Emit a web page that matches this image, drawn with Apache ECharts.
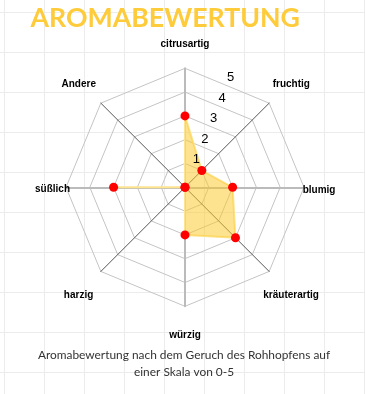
<!DOCTYPE html>
<html>
<head>
<meta charset="utf-8">
<script src="https://cdn.jsdelivr.net/npm/echarts@6/dist/echarts.min.js"></script>
<style>
  html, body { margin: 0; padding: 0; background: #fff; }
  #chart {
    width: 365px; height: 394px;
    background-color: #fff;
    background-image:
      linear-gradient(to bottom, #ececec 1px, transparent 1px),
      linear-gradient(to right, #ececec 1px, transparent 1px);
    background-size: 40px 40px;
    background-position: 4px 12px;
  }
</style>
</head>
<body>
<div id="chart"></div>
<script>
// ---- data ----
const titleText = 'AROMABEWERTUNG';
const captionText = 'Aromabewertung nach dem Geruch des Rohhopfens auf\neiner Skala von 0-5';
const categories = ['citrusartig', 'fruchtig', 'blumig', 'kräuterartig', 'würzig', 'harzig', 'süßlich', 'Andere'];
const values = [3, 1, 2, 3, 2, 0, 3, 0];
const scaleMax = 5;
const tickLabels = ['1', '2', '3', '4', '5'];

// ---- layout / style (not data) ----
const CX = 185, CY = 187.3, R = 119;
// per category (same order as categories), placement of the names
const nameLayout = [
  { gap: 24,   align: 'center', va: 'middle', lh: 12, diag: false },
  { gap: 5,    align: 'left',   va: 'bottom', lh: 31, diag: true },
  { gap: -1.3, align: 'left',   va: 'top',    lh: 5,  diag: false },
  { gap: -8.3, align: 'left',   va: 'top',    lh: 60, diag: true },
  { gap: 29,   align: 'center', va: 'middle', lh: 12, diag: false },
  { gap: 10.7, align: 'right',  va: 'top',    lh: 33, diag: true },
  { gap: -4,   align: 'right',  va: 'top',    lh: 4,  diag: false },
  { gap: 6.9,  align: 'right',  va: 'bottom', lh: 29, diag: true }
];

// ECharts places radar indicators counter-clockwise; the reference runs clockwise.
const order = categories.map((_, i) => (categories.length - i) % categories.length);

const indicators = order.map((k) => {
  const L = nameLayout[k];
  const ind = {
    name: categories[k],
    min: 0,
    max: scaleMax,
    nameGap: L.gap,
    nameTextStyle: { align: L.align, verticalAlign: L.va, lineHeight: L.lh }
  };
  if (L.diag) {
    ind.axisLine = { lineStyle: { color: '#555555', width: 1 } };
  }
  return ind;
});
const orderedValues = order.map((k) => values[k]);

const chart = echarts.init(document.getElementById('chart'), null, { renderer: 'canvas' });
chart.setOption({
  backgroundColor: 'transparent',
  animation: false,
  title: [
    {
      text: titleText,
      left: 30.5,
      top: 4.5,
      padding: 0,
      textStyle: { fontFamily: 'Lato', fontWeight: 'bold', fontSize: 26.7, color: '#fecb3a' }
    },
    {
      text: captionText,
      left: 184,
      top: 346.5,
      padding: 0,
      textAlign: 'center',
      textStyle: { fontFamily: 'Lato', fontWeight: 'normal', fontSize: 11.9, color: '#333333', lineHeight: 17 }
    }
  ],
  radar: {
    center: [CX, CY],
    radius: R,
    shape: 'polygon',
    splitNumber: scaleMax,
    startAngle: 90,
    indicator: indicators,
    axisName: {
      color: '#000000',
      fontFamily: 'Liberation Sans, Arial, sans-serif',
      fontWeight: 'bold',
      fontSize: 10
    },
    axisLine: { show: true, lineStyle: { color: '#bbbbbb', width: 2 } },
    splitLine: { show: true, lineStyle: { color: '#c4c4c4', width: 1 } },
    splitArea: { show: false },
    axisTick: { show: false },
    axisLabel: { show: false }
  },
  polar: {
    center: [CX, CY],
    radius: [7.6, 118.6]
  },
  angleAxis: {
    type: 'value',
    min: 0,
    max: 360,
    startAngle: 67.4,
    show: false
  },
  radiusAxis: {
    type: 'value',
    min: 0,
    max: scaleMax,
    interval: 1,
    axisLine: { show: false },
    axisTick: { show: false },
    splitLine: { show: false },
    axisLabel: {
      show: true,
      margin: 0,
      align: 'center',
      verticalAlign: 'middle',
      showMinLabel: false,
      fontFamily: 'Liberation Sans, Arial, sans-serif',
      fontSize: 13,
      color: '#000000',
      formatter: function (v) { return v >= 1 ? tickLabels[Math.round(v) - 1] : ''; }
    },
    z: 10
  },
  series: [
    {
      type: 'radar',
      symbol: 'circle',
      symbolSize: 9,
      itemStyle: { color: '#ff0000' },
      lineStyle: { color: '#fde490', width: 2 },
      areaStyle: { color: 'rgba(252,200,40,0.52)', opacity: 1 },
      data: [{ value: orderedValues, name: 'Aroma' }],
      z: 2
    }
  ]
});
</script>
</body>
</html>
